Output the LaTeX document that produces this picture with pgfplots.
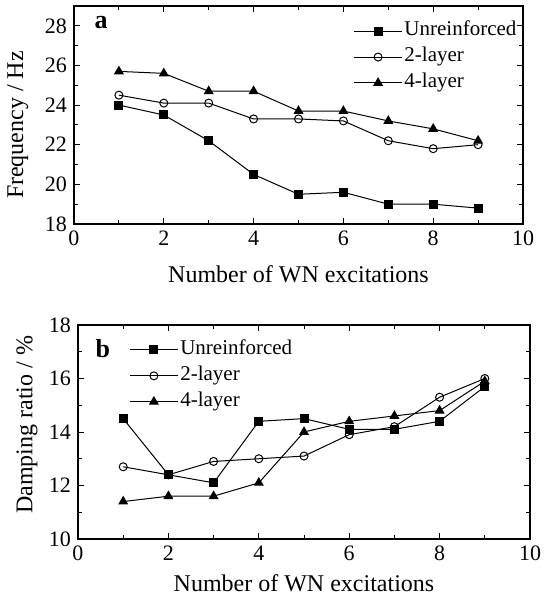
\documentclass[border=0pt]{standalone}
\usepackage{pgfplots}
\pgfplotsset{compat=1.18}
\usepackage{fontspec}
\setmainfont{Liberation Serif}

\pgfplotsset{
  wnstyle/.style={
    scale only axis,
    xmin=0, xmax=10,
    xtick={0,2,...,10},
    minor x tick num=1,
    minor y tick num=1,
    tick align=inside,
    major tick length=3pt, minor tick length=1.8pt,
    axis line style={line width=0.6pt},
    every tick/.style={black, line width=0.5pt},
    tick label style={font=\fontsize{11}{13}\selectfont},
    label style={font=\fontsize{12}{14}\selectfont},
    /pgf/number format/assume math mode=true,
    legend cell align=left,
    legend style={draw=none, fill=none, inner sep=0pt,
      font=\fontsize{10.5}{12}\selectfont, row sep=1.25pt,
      nodes={inner sep=1pt, text height=0.72em, text depth=0.25em}},
    legend image code/.code={\draw[mark repeat=2,mark phase=2] plot coordinates {(0cm,0cm)(0.42cm,0cm)(0.84cm,0cm)};},
  },
  s1/.style={black, line width=0.5pt, mark=square*, mark size=2pt, mark options={solid, fill=black}},
  s2/.style={black, line width=0.5pt, mark=o, mark size=2pt, mark options={solid, fill=white}},
  s3/.style={black, line width=0.5pt, mark=triangle*, mark size=2.4pt, mark options={solid, fill=black}},
}

\begin{document}
\begin{tikzpicture}
\useasboundingbox (0,0) rectangle (271.5pt,299pt);

% (a) frequency
\begin{axis}[wnstyle,
  at={(37pt,187pt)}, anchor=south west,
  width=224.5pt, height=109pt,
  ymin=18, ymax=29, ytick={18,20,...,28},
  xlabel={Number of WN excitations},
  ylabel={Frequency / Hz},
  xlabel style={at={(axis description cs:0.5,-0.23)}, anchor=center},
  ylabel style={at={(axis description cs:-0.125,0.454)}, anchor=center},
  legend style={at={(axis description cs:0.622,0.94)}, anchor=north west},
]
\addplot[s1] coordinates {(1,24.0)(2,23.5)(3,22.2)(4,20.5)(5,19.5)(6,19.6)(7,19.0)(8,19.0)(9,18.8)};
\addplot[s2] coordinates {(1,24.5)(2,24.1)(3,24.1)(4,23.3)(5,23.3)(6,23.2)(7,22.2)(8,21.8)(9,22.0)};
\addplot[s3] coordinates {(1,25.7)(2,25.6)(3,24.7)(4,24.7)(5,23.7)(6,23.7)(7,23.2)(8,22.8)(9,22.2)};
\legend{Unreinforced, 2-layer, 4-layer}
\node[anchor=west, inner sep=0pt, font=\bfseries\fontsize{13}{15}\selectfont] at (axis description cs:0.045,0.922) {a};
\end{axis}

% (b) damping ratio
\begin{axis}[wnstyle,
  at={(39pt,29.5pt)}, anchor=south west,
  width=226pt, height=107pt,
  ymin=10, ymax=18, ytick={10,12,...,18},
  xlabel={Number of WN excitations},
  ylabel={Damping ratio / \%},
  xlabel style={at={(axis description cs:0.5,-0.205)}, anchor=center},
  ylabel style={at={(axis description cs:-0.113,0.533)}, anchor=center},
  legend style={at={(axis description cs:0.113,0.94)}, anchor=north west},
]
\addplot[s1] coordinates {(1,14.5)(2,12.4)(3,12.1)(4,14.4)(5,14.5)(6,14.1)(7,14.1)(8,14.4)(9,15.7)};
\addplot[s2] coordinates {(1,12.7)(2,12.4)(3,12.9)(4,13.0)(5,13.1)(6,13.9)(7,14.2)(8,15.3)(9,16.0)};
\addplot[s3] coordinates {(1,11.4)(2,11.6)(3,11.6)(4,12.1)(5,14.0)(6,14.4)(7,14.6)(8,14.8)(9,15.9)};
\legend{Unreinforced, 2-layer, 4-layer}
\node[anchor=west, inner sep=0pt, font=\bfseries\fontsize{13}{15}\selectfont] at (axis description cs:0.038,0.89) {b};
\end{axis}
\end{tikzpicture}
\end{document}
